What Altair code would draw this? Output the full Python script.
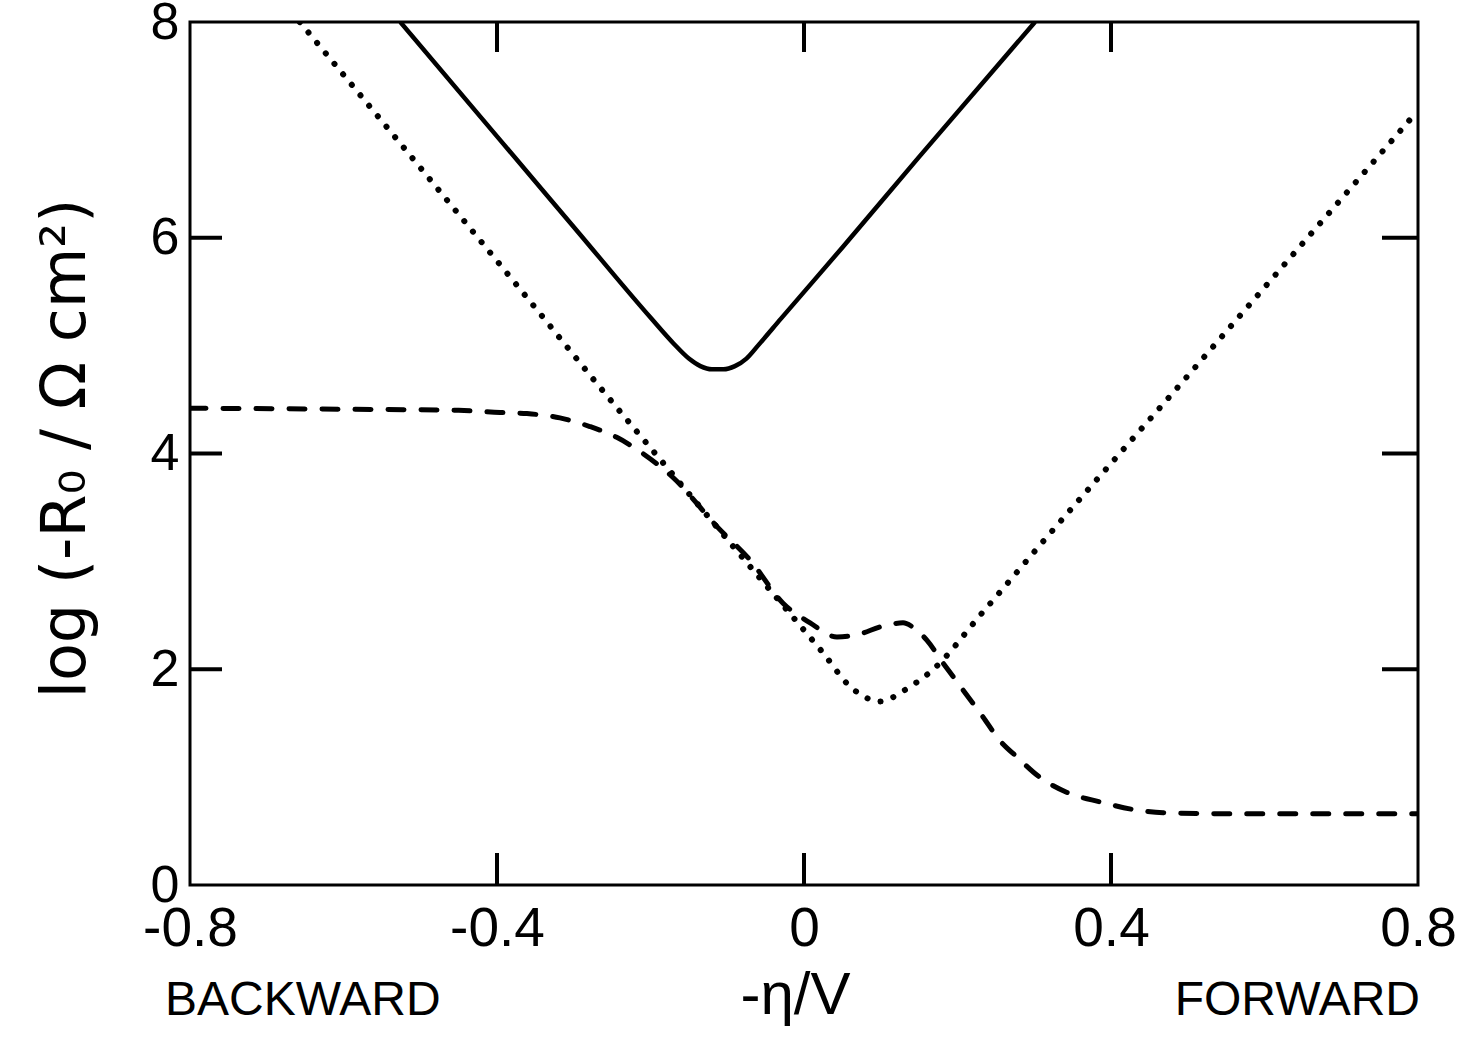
import altair as alt
import pandas as pd

# ---- data ----
solid_x = [-0.526, -0.40, -0.30, -0.20, -0.17, -0.15, -0.135, -0.12, -0.105, -0.09, -0.075, -0.06, -0.03, 0.05, 0.15, 0.301]
solid_y = [8.0, 6.94, 6.10, 5.26, 5.02, 4.88, 4.81, 4.78, 4.78, 4.81, 4.88, 5.00, 5.25, 5.91, 6.75, 8.0]

dotted_x = [-0.657, -0.5, -0.35, -0.27, -0.162, -0.07, -0.014, 0.025, 0.06, 0.08, 0.095, 0.11, 0.125, 0.167, 0.233, 0.311, 0.5, 0.65, 0.8]
dotted_y = [8.0, 6.65, 5.35, 4.65, 3.73, 2.95, 2.48, 2.15, 1.84, 1.74, 1.70, 1.72, 1.78, 1.99, 2.53, 3.18, 4.72, 5.95, 7.18]

dashed_x = [-0.8, -0.6, -0.45, -0.396, -0.361, -0.318, -0.279, -0.244, -0.21, -0.171, -0.113, -0.07, -0.027,
            0.008, 0.043, 0.069, 0.103, 0.129, 0.142, 0.16, 0.181, 0.207, 0.233, 0.255, 0.277, 0.307, 0.342,
            0.386, 0.429, 0.468, 0.55, 0.65, 0.8]
dashed_y = [4.42, 4.41, 4.40, 4.38, 4.37, 4.33, 4.25, 4.15, 4.00, 3.78, 3.32, 3.01, 2.61,
            2.43, 2.30, 2.32, 2.40, 2.43, 2.39, 2.27, 2.06, 1.81, 1.56, 1.34, 1.19, 1.00, 0.86,
            0.77, 0.70, 0.67, 0.66, 0.66, 0.66]

x_ticks = [-0.8, -0.4, 0, 0.4, 0.8]
x_tick_labels = ["-0.8", "-0.4", "0", "0.4", "0.8"]
y_ticks = [0, 2, 4, 6, 8]
x_inner_ticks = [-0.4, 0, 0.4]
y_inner_ticks = [2, 4, 6]

side_labels = ["BACKWARD", "FORWARD"]
side_x = [-0.8, 0.8]

W, H = 1228, 863
FONT = "Liberation Sans"

xs = alt.Scale(domain=[-0.8, 0.8], nice=False, zero=False)
ys = alt.Scale(domain=[0, 8], nice=False, zero=False)

label_expr = "[" + ",".join(f"'{l}'" for l in x_tick_labels) + "][indexof([" + ",".join(str(v) for v in x_ticks) + "], datum.value)]"

x_axis = alt.Axis(values=x_ticks, labelExpr=label_expr, domain=False, ticks=False, grid=False,
                  labelFont=FONT, labelFontSize=55, labelColor="black", labelPadding=17,
                  labelFlush=False, labelOverlap=False,
                  title="-η/V", titleFont=FONT, titleFontSize=60, titleFontWeight="normal",
                  titleColor="black", titleX=605, titleY=128,
                  titleBaseline="alphabetic")
y_axis = alt.Axis(values=y_ticks, domain=False, ticks=False, grid=False,
                  labelFont=FONT, labelFontSize=52, labelColor="black", labelPadding=11,
                  labelFlush=False, labelOverlap=False,
                  title="log (-R₀ / Ω cm²)", titleFont="DejaVu Sans", titleFontSize=62,
                  titleFontWeight="normal", titleColor="black", titleAngle=270,
                  titleX=-106, titleY=426, titleBaseline="alphabetic")

X = lambda f: alt.X(f, scale=xs, axis=x_axis)
Y = lambda f: alt.Y(f, scale=ys, axis=y_axis)

solid = alt.Chart(pd.DataFrame({"x": solid_x, "y": solid_y})).mark_line(
    color="black", strokeWidth=4.5, interpolate="monotone", clip=True
).encode(x=X("x:Q"), y=Y("y:Q"))

dotted = alt.Chart(pd.DataFrame({"x": dotted_x, "y": dotted_y})).mark_line(
    color="black", strokeWidth=6, strokeDash=[0.1, 13.5], strokeCap="round", interpolate="monotone", clip=True
).encode(x=X("x:Q"), y=Y("y:Q"))

dashed = alt.Chart(pd.DataFrame({"x": dashed_x, "y": dashed_y})).mark_line(
    color="black", strokeWidth=5, strokeDash=[16, 17], strokeCap="round", interpolate="monotone", clip=True
).encode(x=X("x:Q"), y=Y("y:Q"))

xt = pd.DataFrame({"x": x_inner_ticks})
yt = pd.DataFrame({"y": y_inner_ticks})
tick_bottom = alt.Chart(xt).mark_rule(color="black", strokeWidth=4).encode(
    x=X("x:Q"), y=alt.value(H), y2=alt.value(H - 32))
tick_top = alt.Chart(xt).mark_rule(color="black", strokeWidth=4).encode(
    x=X("x:Q"), y=alt.value(0), y2=alt.value(30))
tick_left = alt.Chart(yt).mark_rule(color="black", strokeWidth=4).encode(
    y=Y("y:Q"), x=alt.value(0), x2=alt.value(32))
tick_right = alt.Chart(yt).mark_rule(color="black", strokeWidth=4).encode(
    y=Y("y:Q"), x=alt.value(W), x2=alt.value(W - 36))

back = alt.Chart(pd.DataFrame({"x": side_x[:1], "lab": side_labels[:1]})).mark_text(
    align="left", baseline="alphabetic", font=FONT, fontSize=48, color="black", dx=-25
).encode(x=X("x:Q"), y=alt.value(H + 130), text="lab:N")
fwd = alt.Chart(pd.DataFrame({"x": side_x[1:], "lab": side_labels[1:]})).mark_text(
    align="right", baseline="alphabetic", font=FONT, fontSize=48, color="black", dx=2
).encode(x=X("x:Q"), y=alt.value(H + 130), text="lab:N")

chart = alt.layer(
    solid, dashed, dotted, tick_bottom, tick_top, tick_left, tick_right, back, fwd
).properties(
    width=W, height=H,
    autosize=alt.AutoSizeParams(type="none"),
    padding={"left": 190, "top": 22, "right": 43, "bottom": 164},
    background="white",
).configure_view(stroke="black", strokeWidth=3)

chart.save("out.html", embed_options={"renderer": "svg", "actions": False})
